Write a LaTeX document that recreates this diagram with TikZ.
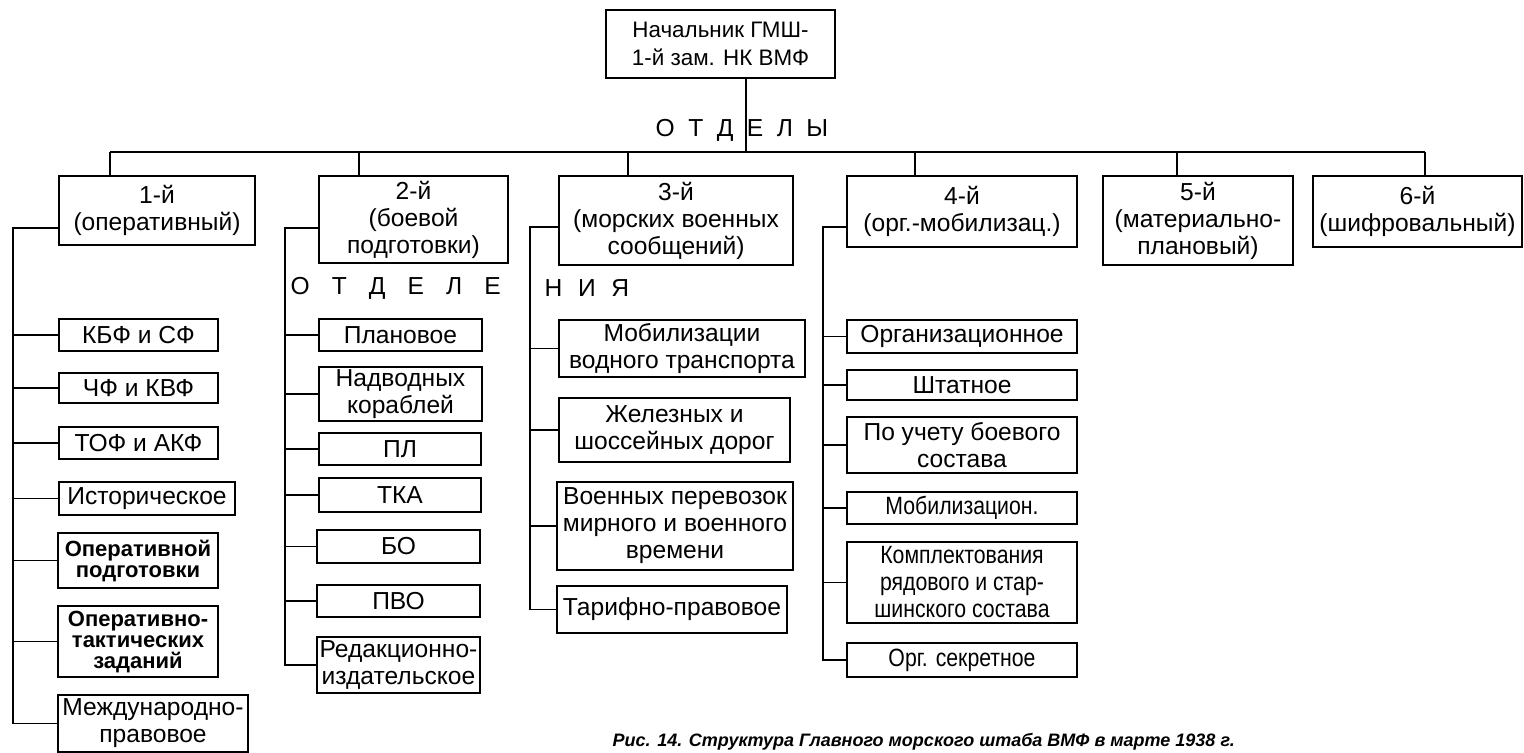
\documentclass[tikz,border=0pt]{standalone}
\usepackage{fontspec}
\setmainfont{Liberation Sans}
\newfontfamily\narrowfont[FakeStretch=0.85]{Liberation Sans}

\begin{document}
\begin{tikzpicture}[x=0.5pt, y=-0.5pt, line width=0.6pt,
    box/.style={draw, align=center, inner sep=1pt, font=\fontsize{12.3}{13.5}\selectfont},
    smallbox/.style={box, font=\fontsize{11}{10.5}\selectfont\bfseries},
    narrowbox/.style={box, font=\narrowfont\fontsize{12.5}{13.5}\selectfont},
    spaced/.style={inner sep=0pt, font=\fontsize{12.3}{13.5}\selectfont\addfontfeature{LetterSpace=#1}}]
    \useasboundingbox (0,0) rectangle (1524,752);

    % Head
    \node[box, font=\fontsize{11.2}{14}\selectfont, minimum width=114.5pt, minimum height=34pt] (top) at (720.5,44) {Начальник ГМШ-\\1-й зам. НК ВМФ};

    % Departments
    \node[box, minimum width=98pt, minimum height=34.5pt] (d1) at (157,210.5) {1-й\\(оперативный)};
    \node[box, minimum width=94.5pt, minimum height=43.5pt] (d2) at (413.5,219.5) {2-й\\(боевой\\подготовки)};
    \node[box, minimum width=117pt, minimum height=44.5pt] (d3) at (676,220.5) {3-й\\(морских военных\\сообщений)};
    \node[box, minimum width=115pt, minimum height=35.5pt] (d4) at (962,211.5) {4-й\\(орг.-мобилизац.)};
    \node[box, minimum width=95pt, minimum height=44.5pt] (d5) at (1198,220.5) {5-й\\(материально-\\плановый)};
    \node[box, minimum width=104.5pt, minimum height=35.5pt] (d6) at (1417.5,211.5) {6-й\\(шифровальный)};

    \node[spaced=27] (otdely) at (742,130) {О Т Д Е Л Ы};
    % ОТДЕЛЕНИЯ, split by the spine of the 3rd department
    \node[spaced=62, anchor=west] (otdel) at (290,288) {О Т Д Е Л Е};
    \node[spaced=36, anchor=west] (otdel2) at (544,288) {Н И Я};

    % 1-й
    \node[box, minimum width=79.5pt, minimum height=16pt] (s11) at (138.5,335) {КБФ и СФ};
    \node[box, minimum width=79.5pt, minimum height=15pt] (s12) at (138.5,388) {ЧФ и КВФ};
    \node[box, minimum width=79.5pt, minimum height=16pt] (s13) at (138.5,443) {ТОФ и АКФ};
    \node[box, minimum width=88pt, minimum height=16.5pt] (s14) at (147,498.5) {Историческое};
    \node[smallbox, minimum width=80pt, minimum height=27.5pt] (s15) at (138,560.5) {Оперативной\\подготовки};
    \node[smallbox, minimum width=80pt, minimum height=35.5pt] (s16) at (138,641.5) {Оперативно-\\тактических\\заданий};
    \node[box, minimum width=95pt, minimum height=28.5pt] (s17) at (153,723.5) {Международно-\\правовое};

    % 2-й
    \node[box, minimum width=81.5pt, minimum height=16pt] (s21) at (400.5,335) {Плановое};
    \node[box, minimum width=81.5pt, minimum height=27pt] (s22) at (400.5,394) {Надводных\\кораблей};
    \node[box, minimum width=81pt, minimum height=16pt] (s23) at (400,449) {ПЛ};
    \node[box, minimum width=81pt, minimum height=17pt] (s24) at (400,495) {ТКА};
    \node[box, minimum width=81.5pt, minimum height=16.5pt] (s25) at (398.5,546.5) {БО};
    \node[box, minimum width=81.5pt, minimum height=16pt] (s26) at (398.5,601) {ПВО};
    \node[box, minimum width=81.5pt, minimum height=28pt] (s27) at (398.5,665) {Редакционно-\\издательское};

    % 3-й
    \node[box, minimum width=123pt, minimum height=28.5pt] (s31) at (682,348.5) {Мобилизации\\водного транспорта};
    \node[box, minimum width=115.5pt, minimum height=32pt] (s32) at (674.5,430) {Железных и\\шоссейных дорог};
    \node[box, minimum width=118pt, minimum height=44pt] (s33) at (675,526) {Военных перевозок\\мирного и военного\\времени};
    \node[box, minimum width=115pt, minimum height=23.5pt] (s34) at (672,609.5) {Тарифно-правовое};

    % 4-й
    \node[box, minimum width=115pt, minimum height=16.5pt] (s41) at (962,336.5) {Организационное};
    \node[box, minimum width=115pt, minimum height=15pt] (s42) at (962,385) {Штатное};
    \node[box, minimum width=115pt, minimum height=28pt] (s43) at (962,445) {По учету боевого\\состава};
    \node[narrowbox, minimum width=115pt, minimum height=16pt] (s44) at (962,508) {Мобилизацион.};
    \node[narrowbox, minimum width=115pt, minimum height=40.5pt] (s45) at (962,582.5) {Комплектования\\рядового и стар-\\шинского состава};
    \node[narrowbox, minimum width=115pt, minimum height=17pt] (s46) at (962,660) {Орг. секретное};

    % Bus to departments
    \coordinate (trunk) at (746,152);
    \coordinate (b1) at (110,152);
    \coordinate (b2) at (359,152);
    \coordinate (b3) at (628,152);
    \coordinate (b4) at (915,152);
    \coordinate (b5) at (1177,152);
    \coordinate (b6) at (1425,152);
    \draw (top.south -| trunk) -- (trunk);
    \draw (b1) -- (b6);
    \foreach \i in {1,...,6}
        \draw (b\i) -- (b\i |- d\i.north);

    % Spines
    \coordinate (sp1) at (13,228);
    \coordinate (sp2) at (285,228);
    \coordinate (sp3) at (530,227);
    \coordinate (sp4) at (823,227);

    \draw (sp1 -| d1.west) -- (sp1) |- (s17.west);
    \foreach \s in {s11,s12,s13,s14,s15,s16}
        \draw (sp1 |- \s.west) -- (\s.west);

    \draw (sp2 -| d2.west) -- (sp2) |- (s27.west);
    \foreach \s in {s21,s22,s23,s24,s25,s26}
        \draw (sp2 |- \s.west) -- (\s.west);

    \draw (sp3 -| d3.west) -- (sp3) |- (s34.west);
    \foreach \s in {s31,s32,s33}
        \draw (sp3 |- \s.west) -- (\s.west);

    \draw (sp4 -| d4.west) -- (sp4) |- (s46.west);
    \foreach \s in {s41,s42,s43,s44,s45}
        \draw (sp4 |- \s.west) -- (\s.west);

    % Caption
    \node[anchor=south west, inner sep=0pt, font=\fontsize{9}{11}\selectfont\bfseries\itshape] (cap) at (612,751)
        {Рис. 14. Структура Главного морского штаба ВМФ в марте 1938 г.};
\end{tikzpicture}
\end{document}
